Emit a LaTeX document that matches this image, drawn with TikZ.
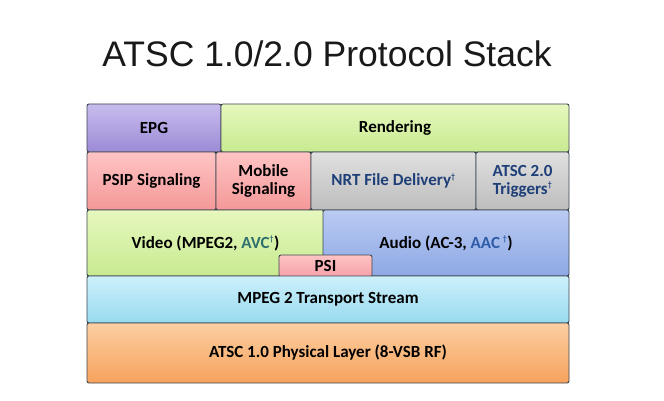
\documentclass[tikz,border=0pt]{standalone}
\usepackage{fontspec}
\setmainfont{Carlito}
\newfontfamily\titlefont{Liberation Sans}
\usetikzlibrary{positioning}

\definecolor{nrtblue}{HTML}{1F3F78}
\definecolor{avcteal}{HTML}{2F6F6F}
\definecolor{aacblue}{HTML}{2E5CA8}
\definecolor{epgtop}{HTML}{C8BCEE}
\definecolor{epgbot}{HTML}{9C8AD6}
\definecolor{greentop}{HTML}{E6F8BE}
\definecolor{greenbot}{HTML}{C8EA90}
\definecolor{redtop}{HTML}{FFC4C4}
\definecolor{redbot}{HTML}{F49898}
\definecolor{greytop}{HTML}{E0E0E0}
\definecolor{greybot}{HTML}{BDBDBD}
\definecolor{bluetop}{HTML}{BACBF3}
\definecolor{bluebot}{HTML}{8DA8E4}
\definecolor{cyantop}{HTML}{CCF0FA}
\definecolor{cyanbot}{HTML}{98DAF0}
\definecolor{orangetop}{HTML}{FCCFA2}
\definecolor{orangebot}{HTML}{F6A25C}
\definecolor{psired}{HTML}{F4A0A8}
\definecolor{edge}{HTML}{3C4650}

\newcommand{\dg}{\textsuperscript{\fontsize{8}{8}\selectfont\dag}}

\tikzset{layer/.style={draw=edge, line width=0.9pt, rounded corners=2pt,
  inner sep=0pt, outer sep=0pt, anchor=north west, align=center,
  font=\bfseries\fontsize{17}{18}\selectfont}}

\begin{document}
\begin{tikzpicture}[x=1pt, y=-1pt]
\useasboundingbox[fill=white] (0,0) rectangle (664,401);
\node[font=\titlefont\fontsize{35.5}{38}\selectfont, text=black!90] (title) at (327,54) {ATSC 1.0/2.0 Protocol Stack};
% top row
\node[layer, minimum width=134pt, minimum height=48pt, top color=epgtop, bottom color=epgbot] (epg) at (87,104) {EPG};
\node[layer, minimum width=348pt, minimum height=48pt, top color=greentop, bottom color=greenbot] (rendering) at (221,104) {Rendering};
% signaling row
\node[layer, minimum width=129pt, minimum height=58pt, top color=redtop, bottom color=redbot] (psip) at (87,152) {PSIP Signaling};
\node[layer, minimum width=95pt, minimum height=58pt, top color=redtop, bottom color=redbot] (mobile) at (216,152) {Mobile\\Signaling};
\node[layer, minimum width=165pt, minimum height=58pt, top color=greytop, bottom color=greybot, text=nrtblue] (nrt) at (311,152) {NRT File Delivery\dg};
\node[layer, minimum width=93pt, minimum height=58pt, top color=greytop, bottom color=greybot, text=nrtblue] (triggers) at (476,152) {ATSC 2.0\\Triggers\dg};
% media row
\node[layer, minimum width=237pt, minimum height=66pt, top color=greentop, bottom color=greenbot] (video) at (87,210) {Video (MPEG2, \textcolor{avcteal}{AVC\dg})};
\node[layer, minimum width=246pt, minimum height=66pt, top color=bluetop, bottom color=bluebot] (audio) at (323,210) {Audio (AC-3, \textcolor{aacblue}{AAC\,\dg})};
\node[layer, minimum width=93pt, minimum height=22pt, top color=redtop, bottom color=psired] (psi) at (279,255) {PSI};
% transport and physical
\node[layer, minimum width=482pt, minimum height=47pt, top color=cyantop, bottom color=cyanbot] (mpeg) at (87,276) {MPEG 2 Transport Stream};
\node[layer, minimum width=482pt, minimum height=60pt, top color=orangetop, bottom color=orangebot] (phys) at (87,323) {ATSC 1.0 Physical Layer (8-VSB RF)};
\end{tikzpicture}
\end{document}
